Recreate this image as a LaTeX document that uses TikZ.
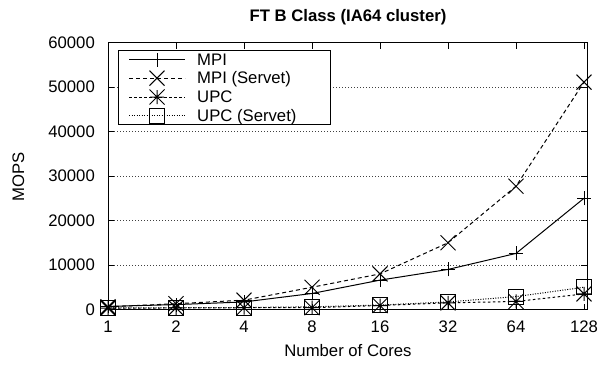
\documentclass[tikz,border=0pt]{standalone}
\usepackage{fontspec}
\setmainfont{Liberation Sans}
\begin{document}
\begin{tikzpicture}[x=1pt,y=1pt,
  lbl/.style={font=\fontsize{16.7}{19}\selectfont, inner sep=0pt},
  frame/.style={line width=1pt, black},
  gridline/.style={line width=0.7pt, black!75, dash pattern=on 1pt off 2pt},
  mpi/.style={line width=1pt},
  mpis/.style={line width=1pt, dash pattern=on 4pt off 3pt},
  upc/.style={line width=1pt, dash pattern=on 2.5pt off 2.5pt},
  upcs/.style={line width=1pt, dash pattern=on 1pt off 1.5pt},
  mplus/.pic={\draw[line width=1pt, solid] (-7pt,0)--(7pt,0) (0,-7pt)--(0,7pt);},
  mcross/.pic={\draw[line width=1pt, solid] (-7.5pt,-7.5pt)--(7.5pt,7.5pt) (-7.5pt,7.5pt)--(7.5pt,-7.5pt);},
  mstar/.pic={\draw[line width=1pt, solid] (-7.5pt,-7.5pt)--(7.5pt,7.5pt) (-7.5pt,7.5pt)--(7.5pt,-7.5pt) (-7pt,0)--(7pt,0) (0,-7pt)--(0,7pt);},
  msq/.pic={\draw[line width=1pt, solid] (-7.5pt,-7.5pt) rectangle (7.5pt,7.5pt);}
]
\useasboundingbox (0,0) rectangle (601,365);
\begin{scope}[shift={(108,55.5)}, x=68pt, y=4.45pt]
  % grid
  \foreach \t in {10,20,30,40,50} \draw[gridline] (0,\t) -- (7.051,\t);
  % ticks
  \foreach \t in {0,...,6} {
    \draw[frame] (0,\t*10) -- ++(6pt,0);
    \draw[frame] (7.051,\t*10) -- ++(-6pt,0);
  }
  \foreach \k in {0,...,7} {
    \draw[frame] (\k,0) -- ++(0,6pt);
    \draw[frame] (\k,60) -- ++(0,-6pt);
  }
  % tick labels
  \foreach \t/\lab in {0/0,1/10000,2/20000,3/30000,4/40000,5/50000,6/60000}
    \node[lbl, anchor=east] (yl\t) at ([xshift=-13pt]0,\t*10) {\lab};
  \foreach \k/\lab in {0/1,1/2,2/4,3/8,4/16,5/32,6/64,7/128}
    \node[lbl, anchor=base] (xl\k) at ([yshift=-23.2pt]\k,0) {\lab};
  % data
  \draw[upcs] plot coordinates {(0,0.35) (1,0.4) (2,0.45) (3,0.6) (4,1.0) (5,1.7) (6,2.9) (7,5.0)};
  \foreach \k/\v in {0/0.35,1/0.4,2/0.45,3/0.6,4/1.0,5/1.7,6/2.9,7/5.0} \pic at (\k,\v) {msq};
  \draw[upc] plot coordinates {(0,0.3) (1,0.35) (2,0.4) (3,0.4) (4,0.9) (5,1.5) (6,1.8) (7,3.5)};
  \foreach \k/\v in {0/0.3,1/0.35,2/0.4,3/0.4,4/0.9,5/1.5,6/1.8,7/3.5} \pic at (\k,\v) {mstar};
  \draw[mpis] plot coordinates {(0,0.6) (1,1.3) (2,2.1) (3,5.0) (4,8.0) (5,15.0) (6,27.7) (7,51.1)};
  \foreach \k/\v in {0/0.6,1/1.3,2/2.1,3/5.0,4/8.0,5/15.0,6/27.7,7/51.1} \pic at (\k,\v) {mcross};
  \draw[mpi] plot coordinates {(0,0.7) (1,1.1) (2,1.7) (3,3.6) (4,6.6) (5,9.0) (6,12.6) (7,25.0)};
  \foreach \k/\v in {0/0.7,1/1.1,2/1.7,3/3.6,4/6.6,5/9.0,6/12.6,7/25.0} \pic at (\k,\v) {mplus};
  % frame
  \draw[frame] (0,0) rectangle (7.051,60);
\end{scope}
% legend
\node[draw, fill=white, line width=1pt, inner sep=0pt, minimum width=212pt, minimum height=74.3pt, anchor=north west] (legend) at (118,315) {};
\draw[mpi] (129,305.5) -- (185,305.5);  \pic at (157,305.5) {mplus};
\node[lbl, anchor=base west] (l1) at (197,300) {MPI};
\draw[mpis] (129,286.8) -- (185,286.8); \pic at (157,286.8) {mcross};
\node[lbl, anchor=base west] (l2) at (197,281.3) {MPI (Servet)};
\draw[upc] (129,268) -- (185,268);      \pic at (157,268) {mstar};
\node[lbl, anchor=base west] (l3) at (197,262.5) {UPC};
\draw[upcs] (129,249.2) -- (185,249.2); \pic at (157,249.2) {msq};
\node[lbl, anchor=base west] (l4) at (197,243.7) {UPC (Servet)};
% titles
\node[lbl, font=\fontsize{16.7}{19}\selectfont\bfseries, anchor=base] (title) at (348,343.3) {FT B Class (IA64 cluster)};
\node[lbl, anchor=base] (xlabel) at (348,8.3) {Number of Cores};
\node[lbl, rotate=90] (ylabel) at (18.5,188.3) {MOPS};
\end{tikzpicture}
\end{document}
